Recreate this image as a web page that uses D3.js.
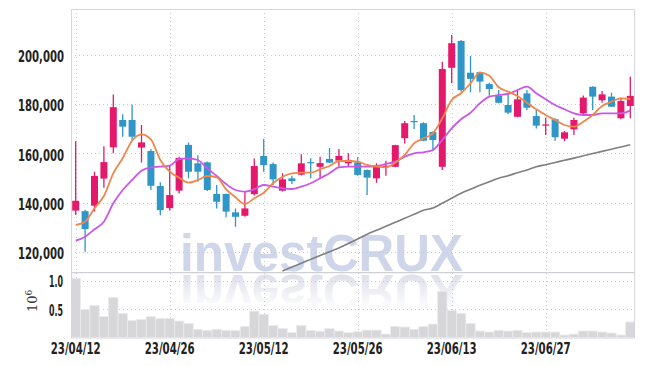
<!DOCTYPE html>
<html><head><meta charset="utf-8">
<script src="https://cdn.jsdelivr.net/npm/d3@7"></script>
<style>body{margin:0;background:#fff}svg{display:block}</style>
</head><body><svg id="c" width="645" height="366"></svg>
<script>
const dates = ["23/04/12","23/04/13","23/04/14","23/04/17","23/04/18","23/04/19","23/04/20","23/04/21","23/04/24","23/04/25",
"23/04/26","23/04/27","23/04/28","23/05/02","23/05/03","23/05/04","23/05/08","23/05/09","23/05/10","23/05/11",
"23/05/12","23/05/15","23/05/16","23/05/17","23/05/18","23/05/19","23/05/22","23/05/23","23/05/24","23/05/25",
"23/05/26","23/05/30","23/05/31","23/06/01","23/06/02","23/06/05","23/06/07","23/06/08","23/06/09","23/06/12",
"23/06/13","23/06/14","23/06/15","23/06/16","23/06/19","23/06/20","23/06/21","23/06/22","23/06/23","23/06/26",
"23/06/27","23/06/28","23/06/29","23/06/30","23/07/03","23/07/04","23/07/05","23/07/06","23/07/07","23/07/10"];
const open = [136800,136600,138800,149800,162500,173600,173600,162400,161000,146800,
137800,144900,163500,156000,156400,143600,143600,136100,134700,143500,
159000,155700,144900,149900,151400,156500,154600,157800,157100,156000,
156400,153300,149900,154500,154600,166200,173200,172300,168700,154600,
194800,205700,192800,193000,188200,183400,179700,174900,184400,175200,
171300,173900,166000,169800,176300,187100,181600,183100,174300,179300];
const high = [165000,137200,152600,162900,184000,175900,179800,171600,161800,148300,
154900,158700,164500,159300,156700,147200,143700,137700,144800,158000,
165900,156300,152000,151000,159700,158100,158700,162200,161800,160100,
158500,153500,156000,157100,163600,173200,175600,172700,169000,197300,
208100,206100,199600,193300,188700,185800,184500,185800,185800,177700,
174500,174300,169100,174500,183600,187300,185400,184700,182700,191200];
const low = [135000,120100,136400,146100,160100,166800,165500,156300,145200,134900,
136900,143800,149900,148500,144800,137700,134100,130300,134300,142900,
152600,147200,144600,147600,151100,149900,149900,156000,154600,154600,
151000,143100,148100,151000,154400,164100,169900,165000,161100,153300,
188500,185100,184900,184900,183500,180400,175900,174700,177700,170200,
167500,165100,165100,167500,175900,177700,180600,178900,173900,174300];
const close = [140800,129300,150900,156500,178800,170900,166800,164500,146900,137000,
143100,158200,152600,152600,145200,140400,136400,134300,137700,154900,
155300,149500,149500,148800,156000,156100,156100,156300,159000,157400,
151300,150200,154600,155000,163400,172300,172800,165200,165500,194300,
204800,185800,190300,189200,186200,180600,176600,182000,178600,171300,
171800,166600,168600,173600,182700,183100,184000,179000,181300,183400];
const ma5 = [130970,132320,137740,142740,151960,158050,165200,167800,165770,157360,
152610,150170,148140,149240,150860,150330,145460,142210,139490,141800,
144080,147900,150580,151960,152200,152200,153580,154920,156950,156950,
156670,155330,154640,154400,156260,159390,164140,166170,168200,174290,
181730,184450,188510,192810,191590,186880,185100,183350,180630,177950,
175640,173600,171570,170880,172910,175640,179290,181040,182420,182130];
const ma10 = [124590,126220,129220,132320,139770,145180,149240,153020,154400,154640,
155050,157760,158050,157360,153990,150860,147610,145180,144490,145460,
147210,146520,145870,145580,146520,147900,149930,151960,154400,154640,
154640,154640,154920,155740,156670,158700,160080,160490,161420,165480,
170230,173880,176570,180390,183070,183760,184160,185790,187130,184450,
182010,179700,177950,176330,175640,175640,176330,176330,176330,177380];
const ma60 = [null,null,null,null,null,null,null,null,null,null,
null,null,null,null,null,null,null,null,null,null,
null,null,112300,113870,115450,117000,118580,120120,121660,123450,
125300,127190,128810,130430,132060,133680,135310,136930,137860,139770,
141800,143840,145460,147080,148550,149930,150980,152200,153300,154640,
155460,156350,157240,158130,159070,159960,160850,161750,162640,163540];
const volume = [1.04,0.495,0.565,0.372,0.705,0.425,0.30,0.32,0.372,0.337,
0.337,0.29,0.25,0.144,0.126,0.144,0.126,0.126,0.196,0.465,
0.41,0.214,0.16,0.09,0.214,0.126,0.11,0.16,0.114,0.085,
0.10,0.13,0.13,0.06,0.196,0.185,0.144,0.196,0.237,0.815,
0.48,0.425,0.25,0.114,0.096,0.126,0.114,0.126,0.085,0.096,
0.096,0.096,0.044,0.06,0.114,0.114,0.096,0.079,0.044,0.272];
const priceTicks = [120000,140000,160000,180000,200000];
const volTicks = [0.5,1.0];
const dateTickIdx = [0,10,20,30,40,50];
const dateTickLabels = ["23/04/12","23/04/26","23/05/12","23/05/26","23/06/13","23/06/27"];

const L=71,R=635,T=9,SEP=272.7,B=337.5;
const svg = d3.select("#c");
const FONT = "'Liberation Sans Narrow','DejaVu Sans Condensed',sans-serif";
const x = d3.scaleBand().domain(d3.range(dates.length)).range([L,R]).padding(0);
const bw = x.bandwidth();
const cx = i => x(i) + bw/2;
const y = d3.scaleLinear().domain([111590,218680]).range([SEP,T]);
const yv = d3.scaleLinear().domain([0,1.141]).range([B,SEP]);

const defs = svg.append("defs");
defs.append("clipPath").attr("id","cp").append("rect").attr("x",L).attr("y",T).attr("width",R-L).attr("height",SEP-T);
defs.append("clipPath").attr("id","cv").append("rect").attr("x",L).attr("y",SEP+1).attr("width",R-L).attr("height",B-SEP-1);
const g1 = defs.append("linearGradient").attr("id","refl").attr("gradientUnits","userSpaceOnUse")
  .attr("x1",0).attr("x2",0).attr("y1",272).attr("y2",236);
g1.append("stop").attr("offset",0).attr("stop-color","#dddeea").attr("stop-opacity",1);
g1.append("stop").attr("offset",1).attr("stop-color","#dddeea").attr("stop-opacity",0);

// watermark (reflection is a <use> of the same text)
const wm = svg.append("g");
wm.append("g").attr("fill","#d0d6ea").append("text").attr("id","wmtext").attr("x",180).attr("y",270.7).text("investCRUX")
  .attr("font-family","'Liberation Sans',Arial,sans-serif").attr("font-weight","bold").attr("font-size",51)
  .attr("textLength",283).attr("lengthAdjust","spacingAndGlyphs");
wm.append("g").attr("clip-path","url(#cv)").append("use").attr("href","#wmtext")
  .attr("transform",`translate(0,${2*SEP}) scale(1,-1)`).attr("fill","url(#refl)");

// grid
const grid = svg.append("g").attr("stroke","#c6c6d4").attr("stroke-width",1).attr("stroke-dasharray","1,3");
grid.selectAll(".hp").data(priceTicks).join("line").attr("x1",L).attr("x2",R).attr("y1",d=>Math.round(y(d))+0.5).attr("y2",d=>Math.round(y(d))+0.5);
grid.selectAll(".hv").data(volTicks).join("line").attr("x1",L).attr("x2",R).attr("y1",d=>Math.round(yv(d))+0.5).attr("y2",d=>Math.round(yv(d))+0.5);
grid.selectAll(".vv").data(dateTickIdx).join("line").attr("y1",T).attr("y2",B).attr("x1",d=>Math.round(cx(d))+0.5).attr("x2",d=>Math.round(cx(d))+0.5);

// volume bars
svg.append("g").attr("clip-path","url(#cv)").selectAll("rect").data(volume).join("rect")
  .attr("x",(d,i)=>x(i)).attr("width",bw).attr("y",d=>yv(d)).attr("height",d=>B-yv(d))
  .attr("fill","#d7d7d9").attr("stroke","#ececee").attr("stroke-width",0.8);

// frame
svg.append("rect").attr("x",L+0.5).attr("y",T+0.5).attr("width",R-L-1).attr("height",B-T).attr("fill","none").attr("stroke","#d6d6de");
svg.append("line").attr("x1",L).attr("x2",R).attr("y1",SEP).attr("y2",SEP).attr("stroke","#cfcfd6").attr("stroke-width",1.2);

// MA lines
const pg = svg.append("g").attr("clip-path","url(#cp)");
const lineGen = d3.line().defined(d=>d!=null).x((d,i)=>cx(i)).y(d=>y(d)).curve(d3.curveMonotoneX);
pg.append("path").datum(ma60).attr("d",lineGen).attr("fill","none").attr("stroke","#7f7f83").attr("stroke-width",1.6);

// candles
const up = "#e5196c", dn = "#2f96c7";
const cg = pg.append("g");
const idx = d3.range(dates.length);
cg.selectAll("line").data(idx).join("line")
  .attr("x1",i=>cx(i)).attr("x2",i=>cx(i)).attr("y1",i=>y(high[i])).attr("y2",i=>y(low[i]))
  .attr("stroke",i=>close[i]>=open[i]?up:dn).attr("stroke-width",1.3);
cg.selectAll("rect").data(idx).join("rect")
  .attr("x",i=>cx(i)-3.5).attr("width",7)
  .attr("y",i=>Math.min(y(open[i]),y(close[i])))
  .attr("height",i=>Math.max(1.2,Math.abs(y(open[i])-y(close[i]))))
  .attr("fill",i=>close[i]>=open[i]?up:dn);

pg.append("path").datum(ma10).attr("d",lineGen).attr("fill","none").attr("stroke","#c957e8").attr("stroke-width",1.8);
pg.append("path").datum(ma5).attr("d",lineGen).attr("fill","none").attr("stroke","#ef874c").attr("stroke-width",1.8);

// axes
const styleAxis = g => { g.select(".domain").remove(); g.selectAll("text").attr("font-family",FONT).attr("font-weight","bold").attr("font-size",15).attr("fill","#222").attr("lengthAdjust","spacingAndGlyphs"); };
svg.append("g").attr("transform",`translate(${L},0)`)
  .call(d3.axisLeft(y).tickValues(priceTicks).tickFormat(d3.format(",")).tickSize(0).tickPadding(7))
  .call(styleAxis).selectAll("text").attr("dy","0.45em").attr("textLength",46);
svg.append("g").attr("transform",`translate(${L},0)`)
  .call(d3.axisLeft(yv).tickValues(volTicks).tickFormat(d3.format(".1f")).tickSize(0).tickPadding(8))
  .call(styleAxis).selectAll("text").attr("dy","0.4em").attr("textLength",14);
svg.append("g").attr("transform",`translate(0,${B})`)
  .call(d3.axisBottom(x).tickValues(dateTickIdx).tickFormat((d,k)=>dateTickLabels[k]).tickSize(0).tickPadding(6))
  .call(styleAxis).selectAll("text").attr("textLength",50);

// 10^6 unit label
const ul = svg.append("text").attr("transform","translate(37,312) rotate(-90)")
  .attr("font-family","'DejaVu Serif',serif").attr("font-size",13).attr("fill","#333");
ul.append("tspan").text("10");
ul.append("tspan").attr("dy",-5).attr("font-size",9).text("6");
</script></body></html>
